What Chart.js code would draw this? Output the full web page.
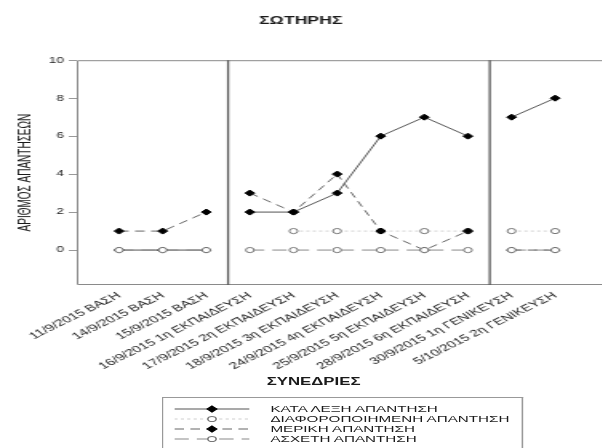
<!DOCTYPE html>
<html><head><meta charset="utf-8">
<script src="https://cdn.jsdelivr.net/npm/chart.js@4.4.0/dist/chart.umd.min.js"></script>
<style>
html,body{margin:0;padding:0;background:#fff;overflow:hidden;width:602px;height:448px}
#wrap{position:absolute;left:0;top:0;width:376px;height:448px;transform:scaleX(1.6);transform-origin:0 0;font-family:"Liberation Sans",Arial,sans-serif;color:#1a1a1a}
#c{position:absolute;left:0;top:0}
#xt{position:absolute;left:146px;width:100px;text-align:center;top:375px;font-weight:bold;font-size:10.5px;line-height:12px}
#lg{position:absolute;left:101px;top:397px;border:1px solid #999;border-bottom:none;padding:6px 8px 12px 7px}
.row{display:flex;align-items:center;height:10px;font-size:9.5px;line-height:10px;white-space:nowrap}
.row svg{width:47px;height:10px;margin-right:13px;flex:none}
</style></head>
<body>
<div id="wrap"><canvas id="c" width="376" height="448"></canvas><div id="xt">ΣΥΝΕΔΡΙΕΣ</div><div id="lg"></div></div>
<script>
// ---- data ----
const sessions = [
  "11/9/2015 ΒΑΣΗ", "14/9/2015 ΒΑΣΗ", "15/9/2015 ΒΑΣΗ",
  "16/9/2015 1η ΕΚΠΑΙΔΕΥΣΗ", "17/9/2015 2η ΕΚΠΑΙΔΕΥΣΗ", "18/9/2015 3η ΕΚΠΑΙΔΕΥΣΗ",
  "24/9/2015 4η ΕΚΠΑΙΔΕΥΣΗ", "25/9/2015 5η ΕΚΠΑΙΔΕΥΣΗ", "28/9/2015 6η ΕΚΠΑΙΔΕΥΣΗ",
  "30/9/2015 1η ΓΕΝΙΚΕΥΣΗ", "5/10/2015 2η ΓΕΝΙΚΕΥΣΗ"
];
const verbatim       = [0, 0, 0, 2, 2, 3, 6, 7, 6, 7, 8];
const differentiated = [null, null, null, null, 1, 1, 1, 1, 1, 1, 1];
const partial        = [1, 1, 2, 3, 2, 4, 1, 0, 1, 0, 0];
const irrelevant     = [0, 0, 0, 0, 0, 0, 0, 0, 0, 0, 0];
const seriesNames = ["ΚΑΤΑ ΛΕΞΗ ΑΠΑΝΤΗΣΗ", "ΔΙΑΦΟΡΟΠΟΙΗΜΕΝΗ ΑΠΑΝΤΗΣΗ", "ΜΕΡΙΚΗ ΑΠΑΝΤΗΣΗ", "ΑΣΧΕΤΗ ΑΠΑΝΤΗΣΗ"];
const yTicks = [0, 2, 4, 6, 8, 10];
const phaseEnds = [2, 8]; // last session index of each phase

// ---- styles ----
const styles = [
  {line:'#555', dash:[], point:'rectRot', r:3, bg:'#000', pb:'#000', order:2},
  {line:'#cfcfcf', dash:[2,2], point:'circle', r:2.6, bg:'#fff', pb:'#777', order:3},
  {line:'#666', dash:[6,4], point:'rectRot', r:3, bg:'#000', pb:'#000', order:1},
  {line:'#8a8a8a', dash:[9,5], point:'circle', r:2.6, bg:'#fff', pb:'#777', order:0}
];
const values = [verbatim, differentiated, partial, irrelevant];

Chart.defaults.font.family = '"Liberation Sans", Arial, sans-serif';
Chart.defaults.color = '#222';

const framePlugin = {
  id: 'frame',
  beforeDatasetsDraw(chart) {
    const {ctx, chartArea: a, scales: {x}} = chart;
    ctx.save();
    ctx.strokeStyle = '#8a8a8a';
    ctx.lineWidth = 1;
    ctx.beginPath();
    ctx.moveTo(chart.width, a.top + 0.5);
    ctx.lineTo(a.left + 0.5, a.top + 0.5);
    ctx.lineTo(a.left + 0.5, a.bottom - 0.5);
    ctx.lineTo(chart.width, a.bottom - 0.5);
    ctx.stroke();
    ctx.strokeStyle = '#5a5a5a';
    ctx.lineWidth = 1.3;
    phaseEnds.forEach(i => {
      const px = x.getPixelForValue(i + 0.5);
      ctx.beginPath();
      ctx.moveTo(px, a.top);
      ctx.lineTo(px, a.bottom);
      ctx.stroke();
    });
    ctx.restore();
  }
};

const datasets = values.map((vals, k) => ({
  label: seriesNames[k],
  data: vals.map((v, i) => ({x: i, y: v})),
  borderColor: styles[k].line,
  borderWidth: 1,
  borderDash: styles[k].dash,
  pointStyle: styles[k].point,
  pointRadius: styles[k].r,
  pointBackgroundColor: styles[k].bg,
  pointBorderColor: styles[k].pb,
  pointBorderWidth: 1,
  fill: false,
  tension: 0,
  order: styles[k].order,
  segment: {
    borderColor: ctx => phaseEnds.includes(ctx.p0DataIndex) ? 'rgba(0,0,0,0)' : undefined
  }
}));

new Chart(document.getElementById('c'), {
  type: 'line',
  data: {datasets},
  plugins: [framePlugin],
  options: {
    responsive: false,
    animation: false,
    events: [],
    layout: {padding: 0},
    plugins: {
      legend: {display: false},
      tooltip: {enabled: false},
      title: {display: true, text: 'ΣΩΤΗΡΗΣ', color: '#1a1a1a',
        font: {size: 11, weight: 'bold'}, padding: {top: 14, bottom: 33}}
    },
    scales: {
      x: {
        type: 'linear', min: -0.97, max: 10.88,
        grid: {display: false, drawTicks: false},
        border: {display: false},
        afterBuildTicks: s => { s.ticks = sessions.map((_, i) => ({value: i})); },
        afterFit: s => { s.height = 163; s.paddingLeft = 0; s.paddingRight = 0; },
        ticks: {
          autoSkip: false, minRotation: 38, maxRotation: 38, padding: 5,
          font: {size: 9.5}, color: '#222',
          callback: v => sessions[v]
        }
      },
      y: {
        min: -1.84, max: 10,
        afterBuildTicks: s => { s.ticks = yTicks.map(v => ({value: v})); },
        afterFit: s => { s.width = 48; },
        grid: {display: true, drawOnChartArea: false, drawTicks: true, tickLength: 5, color: '#999'},
        border: {display: false},
        ticks: {font: {size: 8.5}, color: '#222', padding: 3},
        title: {display: true, text: 'ΑΡΙΘΜΟΣ ΑΠΑΝΤΗΣΕΩΝ', color: '#1a1a1a',
          font: {size: 10}, padding: {top: 10, bottom: 0}}
      }
    }
  }
});

// ---- legend (HTML, built from the same series definitions) ----
const lg = document.getElementById('lg');
seriesNames.forEach((name, k) => {
  const st = styles[k];
  const row = document.createElement('div');
  row.className = 'row';
  let marker;
  if (st.point === 'rectRot') {
    const r = st.r;
    marker = `<polygon points="23.5,${5-r} ${23.5+r},5 23.5,${5+r} ${23.5-r},5" fill="${st.bg}" stroke="${st.pb}" stroke-width="1"/>`;
  } else {
    marker = `<circle cx="23.5" cy="5" r="${st.r}" fill="${st.bg}" stroke="${st.pb}" stroke-width="1"/>`;
  }
  row.innerHTML = `<svg viewBox="0 0 47 10"><line x1="0" y1="5" x2="47" y2="5" stroke="${st.line}" stroke-width="1" stroke-dasharray="${st.dash.join(',')}"/>${marker}</svg><span>${name}</span>`;
  lg.appendChild(row);
});
</script>
</body></html>
